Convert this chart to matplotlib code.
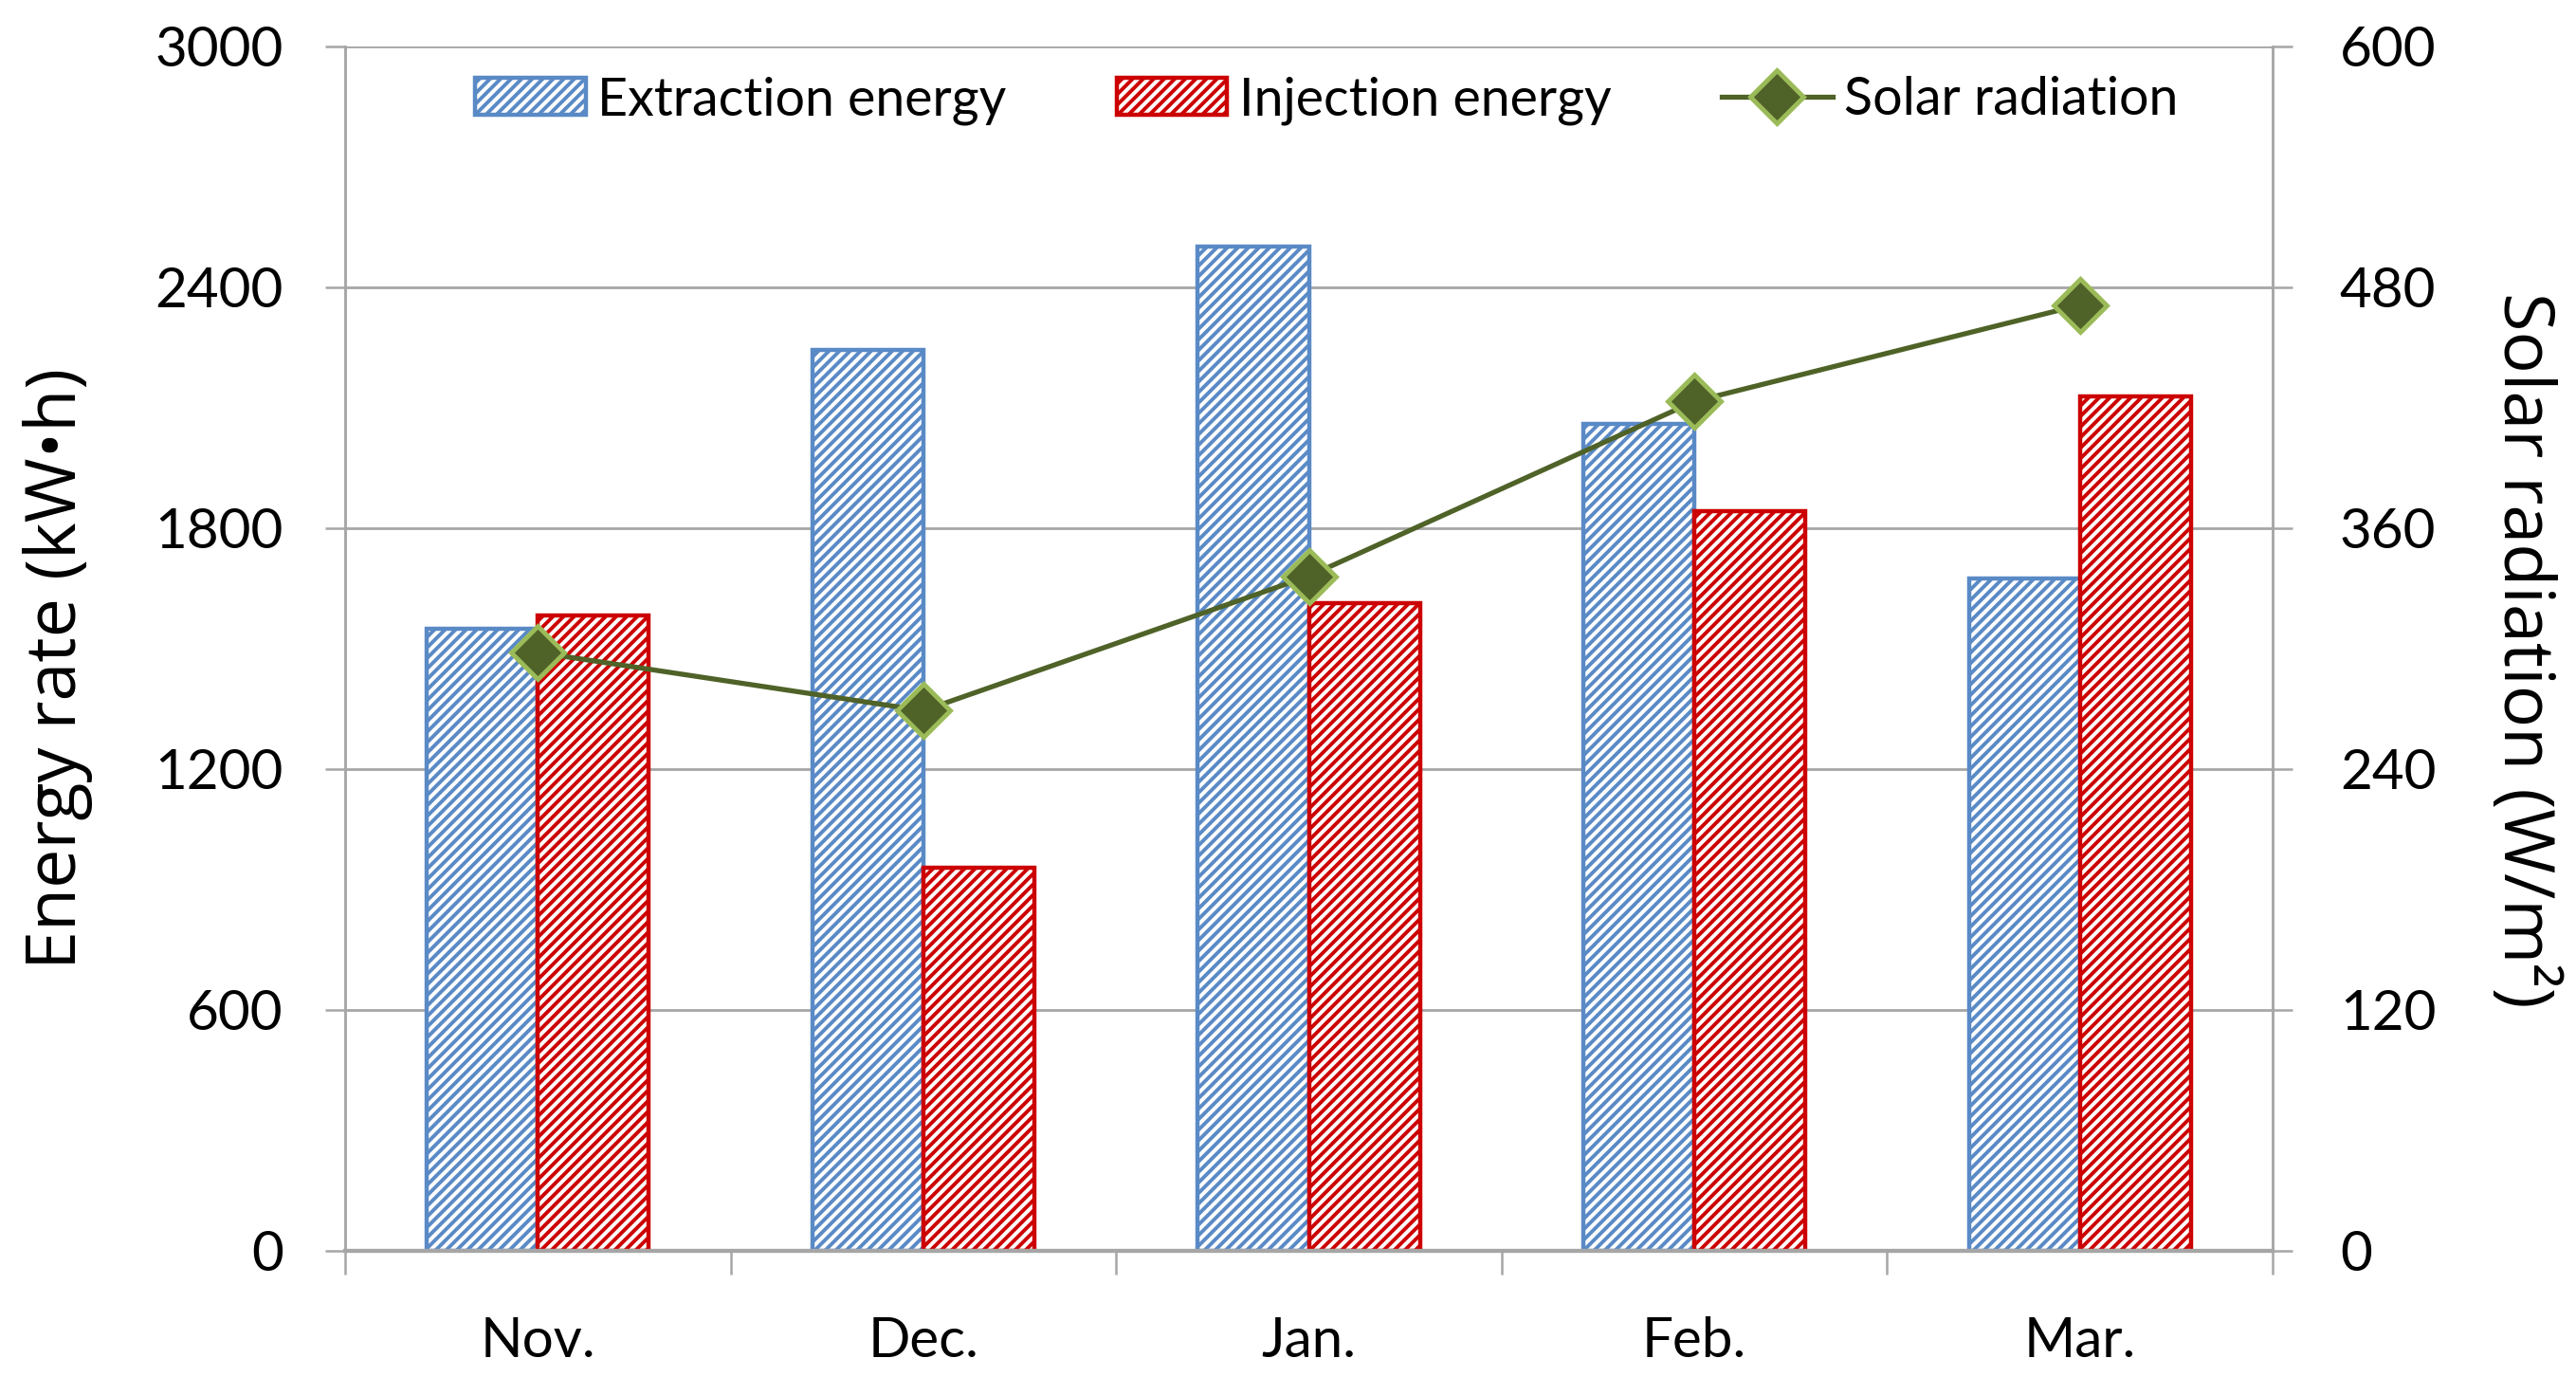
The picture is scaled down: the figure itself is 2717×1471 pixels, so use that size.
import matplotlib
matplotlib.use("Agg")
import matplotlib.pyplot as plt
import numpy as np

months = ["Nov.", "Dec.", "Jan.", "Feb.", "Mar."]
extraction = [1549, 2243, 2500, 2059, 1674]
injection = [1582, 955, 1613, 1842, 2128]
solar = [298, 269, 336, 423, 471]

left_ticks = [0, 600, 1200, 1800, 2400, 3000]
right_ticks = [0, 120, 240, 360, 480, 600]

plt.rcParams['font.family'] = ['Lato', 'DejaVu Sans']
plt.rcParams['hatch.linewidth'] = 2.8

fig = plt.figure(figsize=(27.17, 14.71), dpi=100)
ax = fig.add_axes([364/2717, 1-1319/1471, (2397-364)/2717, (1319-48.5)/1471])
ax2 = ax.twinx()

x = np.arange(len(months))
w = 0.288
grid_c = '#A6A6A6'
blue = '#5A8AC6'
red = '#CC0000'

ax.set_axisbelow(True)
ax.yaxis.grid(True, color=grid_c, linewidth=2.0)
b1 = ax.bar(x - w/2, extraction, w, facecolor='white', edgecolor=blue,
            hatch='///', linewidth=3.2, label='Extraction energy', zorder=2)
b2 = ax.bar(x + w/2, injection, w, facecolor='white', edgecolor=red,
            hatch='///', linewidth=3.2, label='Injection energy', zorder=2)

ln, = ax2.plot(x, solar, color='#4F6228', linewidth=3.8, marker='D',
               markersize=29, markerfacecolor='#4F6228',
               markeredgecolor='#9BBB59', markeredgewidth=3.5,
               label='Solar radiation', zorder=5)

ax.set_xlim(-0.5, len(months) - 0.5)
ax.set_ylim(0, 3000)
ax2.set_ylim(0, 600)
ax.set_yticks(left_ticks)
ax2.set_yticks(right_ticks)

ax.set_xticks(x)
ax.set_xticklabels(months)
ax.set_xticks(np.arange(len(months) + 1) - 0.5, minor=True)
ax.tick_params(axis='x', which='major', length=0, pad=50, labelsize=42)
ax.tick_params(axis='x', which='minor', length=18, width=1.8, color=grid_c)
ax.tick_params(axis='y', length=15, width=1.8, color=grid_c, pad=32, labelsize=42)
ax2.tick_params(axis='y', length=15, width=1.8, color=grid_c, pad=36, labelsize=42)

for a in (ax, ax2):
    a.spines['top'].set_visible(False)
    a.spines['left'].set_color(grid_c)
    a.spines['right'].set_color(grid_c)
    a.spines['left'].set_linewidth(1.8)
    a.spines['right'].set_linewidth(1.8)
    a.spines['bottom'].set_color(grid_c)
    a.spines['bottom'].set_linewidth(3.0)

ax.set_ylabel('Energy rate (kW•h)', family=['Open Sans', 'DejaVu Sans'], fontsize=53)
ax.yaxis.set_label_coords(61/2717, 1-(705/1471), transform=fig.transFigure)
ax.yaxis.label.set_va('center')
ax2.set_ylabel('Solar radiation (W/m²)', family=['Open Sans', 'DejaVu Sans'],
               fontsize=53, rotation=270, va='center')
ax2.yaxis.set_label_coords(2660/2717, 1-(685/1471), transform=fig.transFigure)

ax.legend([b1, b2, ln], ['Extraction energy', 'Injection energy', 'Solar radiation'],
          loc='center', bbox_to_anchor=(1399/2717, 1-106/1471),
          bbox_transform=fig.transFigure, ncol=3, frameon=False, fontsize=40,
          handlelength=2.1, handletextpad=0.22, columnspacing=2.1,
          handleheight=0.7, borderpad=0)

fig.savefig('out.png', dpi=100)
